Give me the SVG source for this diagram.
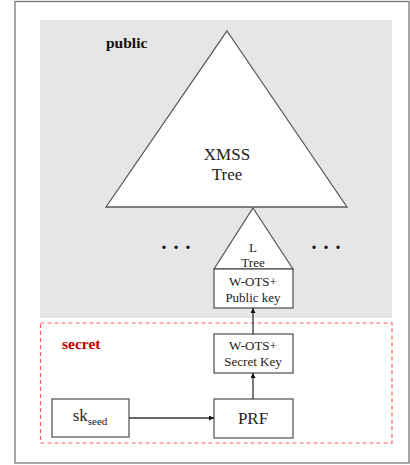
<svg xmlns="http://www.w3.org/2000/svg" width="410" height="465" viewBox="0 0 410 465">
  <style>
    .shape { fill: #ffffff; stroke: #5a5a5a; stroke-width: 1.3; }
    .label { font-family: "Liberation Serif", "Times New Roman", serif; fill: #222; text-anchor: middle; }
    .edge { stroke: #333; stroke-width: 1.3; fill: none; marker-end: url(#arrow); }
    .dots { font-family: "Liberation Serif", serif; font-size: 20px; font-weight: bold; fill: #111; text-anchor: middle; }
  </style>
  <defs>
    <marker id="arrow" viewBox="0 0 6 6" refX="6" refY="3" markerWidth="5" markerHeight="5" orient="auto" markerUnits="userSpaceOnUse">
      <path d="M0,0 L6,3 L0,6 z" fill="#111"/>
    </marker>
  </defs>

  <!-- frame -->
  <rect x="15" y="1.5" width="394" height="461.5" fill="#ffffff" stroke="#777" stroke-width="1.3"/>

  <!-- public region -->
  <rect id="public-area" x="40" y="20" width="352" height="298" fill="#e6e6e6"/>
  <text x="106" y="48" font-family="Liberation Serif, serif" font-weight="bold" font-size="15.5" fill="#111">public</text>

  <!-- secret region -->
  <rect id="secret-area" x="40.5" y="323" width="351.5" height="120" fill="none" stroke="#ff5a5a" stroke-width="1.2" stroke-dasharray="4,3"/>
  <text x="62" y="349" font-family="Liberation Serif, serif" font-weight="bold" font-size="15.5" fill="#c00000">secret</text>

  <g id="xmss-tree">
    <polygon class="shape" points="227,31 347,207 106,207"/>
    <text class="label" x="227" y="160" font-size="17">XMSS</text>
    <text class="label" x="227" y="180" font-size="17">Tree</text>
  </g>

  <g id="l-tree">
    <polygon class="shape" points="253,208 293,269 214,269"/>
    <text class="label" x="253" y="252" font-size="13">L</text>
    <text class="label" x="253" y="267" font-size="13">Tree</text>
  </g>

  <!-- ellipses for the sibling branches -->
  <g id="ellipsis-left"><text class="dots" x="176.5" y="249" letter-spacing="1">. . .</text></g>
  <g id="ellipsis-right"><text class="dots" x="326.5" y="249" letter-spacing="1">. . .</text></g>

  <g id="wots-public">
    <rect class="shape" x="214" y="269" width="79" height="39"/>
    <text class="label" x="253" y="286" font-size="13">W-OTS+</text>
    <text class="label" x="253" y="302" font-size="13">Public key</text>
  </g>

  <g id="wots-secret">
    <rect class="shape" x="214" y="334" width="79" height="39"/>
    <text class="label" x="253" y="350" font-size="13">W-OTS+</text>
    <text class="label" x="253" y="366" font-size="13">Secret Key</text>
  </g>

  <g id="prf">
    <rect class="shape" x="214" y="399" width="79" height="39"/>
    <text class="label" x="253" y="424" font-size="17">PRF</text>
  </g>

  <g id="sk-seed">
    <rect class="shape" x="52" y="399" width="77" height="38"/>
    <text class="label" x="90" y="421" font-size="17">sk<tspan font-size="11" dy="4">seed</tspan></text>
  </g>

  <g id="connectors">
    <line class="edge" x1="129" y1="418" x2="214" y2="418"/>
    <line class="edge" x1="253" y1="399" x2="253" y2="373"/>
    <line class="edge" x1="253" y1="334" x2="253" y2="308"/>
  </g>
</svg>
